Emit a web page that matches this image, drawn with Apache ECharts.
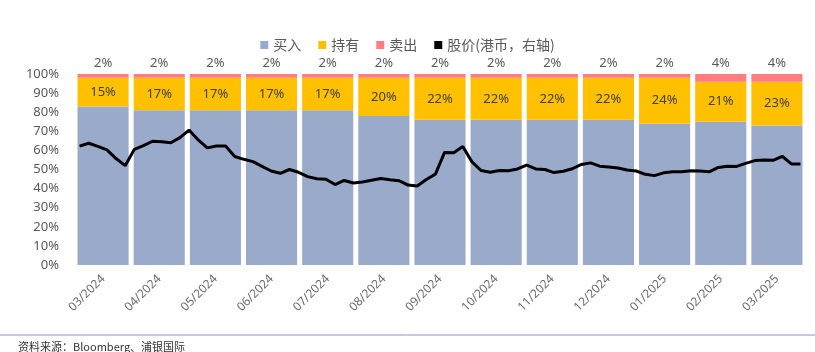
<!DOCTYPE html>
<html>
<head>
<meta charset="utf-8">
<script src="https://cdn.jsdelivr.net/npm/echarts@6/dist/echarts.min.js"></script>
<style>
  html, body { margin: 0; padding: 0; background: #fff; }
  #chart { width: 815px; height: 352px; }
</style>
</head>
<body>
<div id="chart"></div>
<script>
// 月份
const months = ['03/2024', '04/2024', '05/2024', '06/2024', '07/2024', '08/2024', '09/2024',
  '10/2024', '11/2024', '12/2024', '01/2025', '02/2025', '03/2025']
// 评级占比（%）
const buyPct = [83, 81, 81, 81, 81, 78, 76, 76, 76, 76, 74, 75, 73]
const holdPct = [15, 17, 17, 17, 17, 20, 22, 22, 22, 22, 24, 21, 23]
const sellPct = [2, 2, 2, 2, 2, 2, 2, 2, 2, 2, 2, 4, 4]
// 股价（港币，右轴），半周采样
const price = [
  4.67, 4.78, 4.66, 4.52, 4.18, 3.90, 4.54, 4.69, 4.86, 4.84,
  4.80, 5.00, 5.30, 4.91, 4.60, 4.67, 4.67, 4.26, 4.15, 4.06,
  3.87, 3.69, 3.60, 3.75, 3.64, 3.47, 3.39, 3.37, 3.16, 3.32,
  3.22, 3.26, 3.33, 3.40, 3.35, 3.31, 3.14, 3.10, 3.36, 3.57,
  4.42, 4.41, 4.65, 4.05, 3.71, 3.64, 3.71, 3.70, 3.77, 3.92,
  3.77, 3.75, 3.63, 3.68, 3.78, 3.95, 4.01, 3.88, 3.85, 3.81,
  3.73, 3.69, 3.56, 3.51, 3.62, 3.66, 3.66, 3.70, 3.69, 3.66,
  3.83, 3.88, 3.87, 3.99, 4.10, 4.12, 4.11, 4.27, 3.97, 3.97
]

const labelColor = '#595959'
const font = '"Noto Sans", "Noto Sans CJK SC", sans-serif'

const chart = echarts.init(document.getElementById('chart'))

const option = {
  backgroundColor: '#ffffff',
  animation: false,
  textStyle: { fontFamily: font },
  legend: {
    top: 33,
    left: 'center',
    itemWidth: 8,
    itemHeight: 8,
    itemGap: 17,
    icon: 'rect',
    textStyle: { color: labelColor, fontSize: 14, fontFamily: '"Noto Sans CJK SC", sans-serif' },
    data: ['买入', '持有', '卖出', '股价(港币，右轴)'],
  },
  grid: { left: 75, right: 10, top: 74, bottom: 87 },
  xAxis: [
    {
      type: 'category',
      data: months,
      axisLine: { show: false },
      axisTick: { show: false },
      axisLabel: { color: '#6b6b6b', fontSize: 12, rotate: 45, margin: 12 },
    },
    {
      type: 'category',
      data: price.map((_, i) => i),
      show: false,
      boundaryGap: true,
    },
  ],
  yAxis: [
    {
      type: 'value',
      min: 0,
      max: 100,
      interval: 10,
      axisLine: { show: false },
      axisTick: { show: false },
      splitLine: { show: false },
      axisLabel: { color: labelColor, fontSize: 13, margin: 16, formatter: '{value}%' },
    },
    {
      type: 'value',
      min: 0,
      max: 7.5,
      show: false,
    },
  ],
  series: [
    {
      name: '买入',
      type: 'bar',
      stack: 'rating',
      barCategoryGap: '9%',
      itemStyle: { color: '#99AACB' },
      data: buyPct,
    },
    {
      name: '持有',
      type: 'bar',
      stack: 'rating',
      itemStyle: { color: '#FFC000' },
      label: {
        show: true,
        position: 'inside',
        color: '#404040',
        fontSize: 13,
        formatter: '{c}%',
      },
      data: holdPct,
    },
    {
      name: '卖出',
      type: 'bar',
      stack: 'rating',
      itemStyle: { color: '#FF7C80' },
      label: {
        show: true,
        position: 'top',
        distance: 4,
        color: labelColor,
        fontSize: 13,
        formatter: '{c}%',
      },
      data: sellPct,
    },
    {
      name: '股价(港币，右轴)',
      type: 'line',
      xAxisIndex: 1,
      yAxisIndex: 1,
      symbol: 'none',
      itemStyle: { color: '#000000' },
      lineStyle: { color: '#000000', width: 3 },
      data: price,
    },
  ],
  graphic: [
    {
      type: 'line',
      shape: { x1: 0, y1: 335, x2: 815, y2: 335 },
      style: { stroke: '#8E93C3', lineWidth: 1 },
    },
    {
      type: 'text',
      left: 18,
      top: 341,
      style: {
        text: '资料来源：Bloomberg、浦银国际',
        fill: '#333333',
        fontSize: 11,
        fontFamily: '"Noto Sans CJK SC", sans-serif',
      },
    },
  ],
}

chart.setOption(option)
</script>
</body>
</html>
